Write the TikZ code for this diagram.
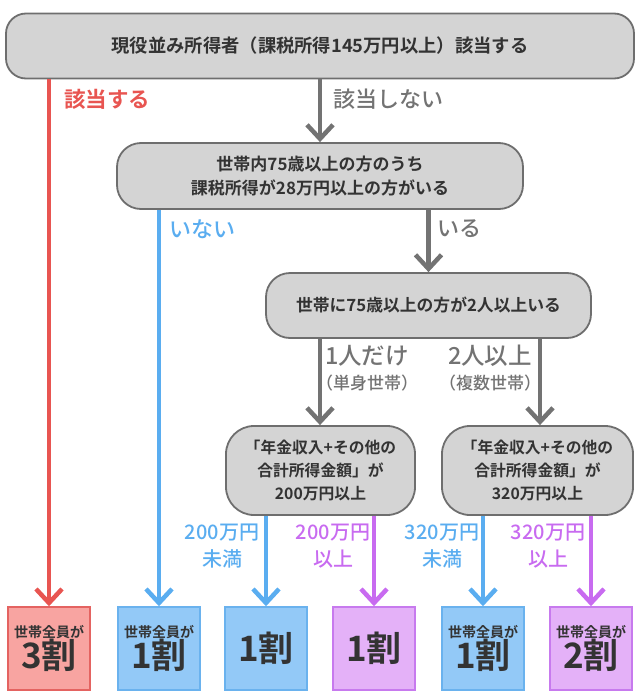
\documentclass[tikz,border=0pt]{standalone}
\usepackage{fontspec}
\setmainfont{Noto Sans CJK JP}[BoldFont={Noto Sans CJK JP Bold}]
\newfontfamily\medfont{Noto Sans CJK JP Medium}
\usetikzlibrary{arrows.meta}
\definecolor{gline}{HTML}{737373}
\definecolor{gfill}{HTML}{D4D4D4}
\definecolor{gborder}{HTML}{6E6E6E}
\definecolor{rline}{HTML}{E85551}
\definecolor{rfill}{HTML}{F8A4A1}
\definecolor{rborder}{HTML}{E46361}
\definecolor{bline}{HTML}{5AADF0}
\definecolor{bfill}{HTML}{93C9F7}
\definecolor{bborder}{HTML}{6AB2EE}
\definecolor{pline}{HTML}{C86BF0}
\definecolor{pfill}{HTML}{E4B1F8}
\definecolor{pborder}{HTML}{C77AEE}
\definecolor{txt}{HTML}{333333}
\tikzset{
  qbox/.style={draw=gborder, fill=gfill, line width=1.8pt, rounded corners=20pt, text=txt, align=center, font=\bfseries, inner sep=0pt},
  res/.style={draw=#1border, fill=#1fill, line width=1.5pt, minimum width=82pt, minimum height=83pt, inner sep=0pt, text=txt, align=center},
  arr/.style={draw=#1, line width=4.5pt, -{Straight Barb[length=14pt,width=26pt]}},
  lab/.style={text=#1, inner sep=0pt},
}
\begin{document}
\begin{tikzpicture}[x=1pt,y=-1pt]
\useasboundingbox (0,0) rectangle (640,699);
% question boxes
\node[qbox, minimum width=628pt, minimum height=65pt, font=\fontsize{18.3}{21}\selectfont\bfseries] (top) at (320,46) {現役並み所得者（課税所得145万円以上）該当する};
\node[qbox, minimum width=406pt, minimum height=66pt, rounded corners=24pt, font=\fontsize{17}{23.5}\selectfont\bfseries] (q2) at (320,176) {世帯内75歳以上の方のうち\\課税所得が28万円以上の方がいる};
\node[qbox, minimum width=325pt, minimum height=65pt, rounded corners=24pt, font=\fontsize{16.8}{21}\selectfont\bfseries] (q3) at (428.5,305.5) {世帯に75歳以上の方が2人以上いる};
\node[qbox, minimum width=189pt, minimum height=89pt, rounded corners=28pt, font=\fontsize{15.8}{23}\selectfont\bfseries] (q4a) at (320.5,470.5) {「年金収入+その他の\\合計所得金額」が\\200万円以上};
\node[qbox, minimum width=191pt, minimum height=89pt, rounded corners=28pt, font=\fontsize{15.8}{23}\selectfont\bfseries] (q4b) at (537.5,470.5) {「年金収入+その他の\\合計所得金額」が\\320万円以上};
% result boxes
\node[res=r] (k1) at (49,648.5) {\fontsize{14}{16}\selectfont\bfseries 世帯全員が\\[-1pt]\fontsize{35}{37}\selectfont\bfseries 3割};
\node[res=b] (k2) at (159,648.5) {\fontsize{14}{16}\selectfont\bfseries 世帯全員が\\[-1pt]\fontsize{35}{37}\selectfont\bfseries 1割};
\node[res=b] (k3) at (266,648.5) {\fontsize{35}{37}\selectfont\bfseries 1割};
\node[res=p] (k4) at (374,648.5) {\fontsize{35}{37}\selectfont\bfseries 1割};
\node[res=b] (k5) at (483,648.5) {\fontsize{14}{16}\selectfont\bfseries 世帯全員が\\[-1pt]\fontsize{35}{37}\selectfont\bfseries 1割};
\node[res=p] (k6) at (591,648.5) {\fontsize{14}{16}\selectfont\bfseries 世帯全員が\\[-1pt]\fontsize{35}{37}\selectfont\bfseries 2割};
% connectors
\coordinate (c3a) at (320,0);
\coordinate (c3b) at (540,0);
\draw[arr=rline] (k1 |- top.south) -- (k1.north);
\draw[arr=gline] (top.south) -- (q2.north);
\draw[arr=bline] (k2 |- q2.south) -- (k2.north);
\draw[arr=gline] (q3 |- q2.south) -- (q3.north);
\draw[arr=gline] (c3a |- q3.south) -- (c3a |- q4a.north);
\draw[arr=gline] (c3b |- q3.south) -- (c3b |- q4b.north);
\draw[arr=bline] (k3 |- q4a.south) -- (k3.north);
\draw[arr=pline] (k4 |- q4a.south) -- (k4.north);
\draw[arr=bline] (k5 |- q4b.south) -- (k5.north);
\draw[arr=pline] (k6 |- q4b.south) -- (k6.north);
% labels
\node[lab=rline, anchor=west, font=\fontsize{21.5}{24}\selectfont\bfseries] (l1) at (64,99) {該当する};
\node[lab=gline, anchor=west, font=\fontsize{22}{24}\selectfont\medfont] (l2) at (333,99) {該当しない};
\node[lab=bline, anchor=west, font=\fontsize{22}{24}\selectfont\medfont] (l3) at (169,229) {いない};
\node[lab=gline, anchor=west, font=\fontsize{22}{24}\selectfont\medfont] (l4) at (437,229) {いる};
\node[lab=gline, font=\fontsize{23.5}{26}\selectfont\medfont] (l5) at (367,356) {1人だけ};
\node[lab=gline, font=\fontsize{17}{19}\selectfont\medfont] (l5b) at (367,383) {（単身世帯）};
\node[lab=gline, font=\fontsize{23.5}{26}\selectfont\medfont] (l6) at (490,356) {2人以上};
\node[lab=gline, font=\fontsize{17}{19}\selectfont\medfont] (l6b) at (490,383) {（複数世帯）};
\node[lab=bline, align=center, font=\fontsize{20}{27}\selectfont\medfont] (l7) at (222,546) {200万円\\未満};
\node[lab=pline, align=center, font=\fontsize{20}{27}\selectfont\medfont] (l8) at (333,546) {200万円\\以上};
\node[lab=bline, align=center, font=\fontsize{20}{27}\selectfont\medfont] (l9) at (442,546) {320万円\\未満};
\node[lab=pline, align=center, font=\fontsize{20}{27}\selectfont\medfont] (l10) at (548,546) {320万円\\以上};
\end{tikzpicture}
\end{document}
